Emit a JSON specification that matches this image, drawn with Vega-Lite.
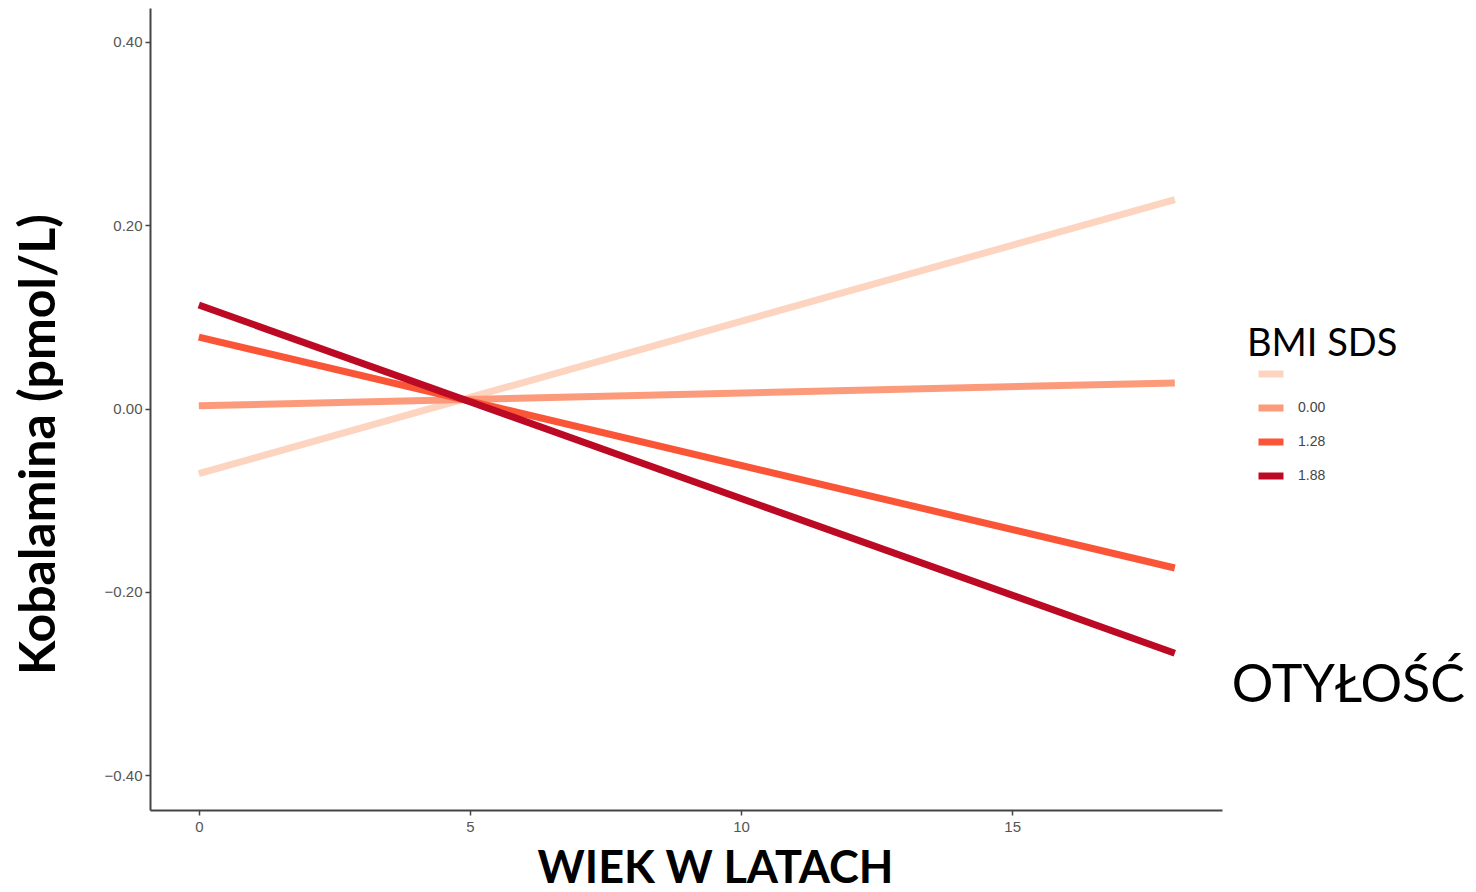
{
  "$schema": "https://vega.github.io/schema/vega-lite/v6.json",
  "width": 1072,
  "height": 802,
  "autosize": {"type": "none"},
  "padding": {"left": 150, "top": 8, "right": 254, "bottom": 82},
  "background": "white",
  "config": {"view": {"stroke": null}},
  "layer": [
    {
      "data": {
        "values": [
          {"wiek": 0, "kob": -0.071, "bmi": "-1.28"},
          {"wiek": 18, "kob": 0.228, "bmi": "-1.28"},
          {"wiek": 0, "kob": 0.003, "bmi": "0.00"},
          {"wiek": 18, "kob": 0.028, "bmi": "0.00"},
          {"wiek": 0, "kob": 0.078, "bmi": "1.28"},
          {"wiek": 18, "kob": -0.174, "bmi": "1.28"},
          {"wiek": 0, "kob": 0.113, "bmi": "1.88"},
          {"wiek": 18, "kob": -0.267, "bmi": "1.88"}
        ]
      },
      "mark": {"type": "line", "strokeWidth": 7, "strokeCap": "butt"},
      "encoding": {
        "x": {
          "field": "wiek", "type": "quantitative",
          "scale": {"domain": [-0.9, 18.87], "nice": false, "zero": false},
          "axis": {
            "values": [0, 5, 10, 15], "grid": false, "title": "WIEK W LATACH",
            "titleFont": "Lato", "titleFontSize": 45, "titleFontWeight": "bold", "titleColor": "black",
            "titleX": 565, "titleY": 36, "titleBaseline": "top",
            "labelFont": "Liberation Sans", "labelFontSize": 15, "labelColor": "#555",
            "labelPadding": 4, "tickSize": 5, "tickColor": "#444", "tickWidth": 1.5,
            "domainColor": "#444", "domainWidth": 2
          }
        },
        "y": {
          "field": "kob", "type": "quantitative",
          "scale": {"domain": [-0.438, 0.437], "nice": false, "zero": false},
          "axis": {
            "values": [-0.4, -0.2, 0, 0.2, 0.4], "format": ".2f", "grid": false,
            "title": "Kobalamina (pmol/L)",
            "titleFont": "Lato", "titleFontSize": 50, "titleFontWeight": "bold", "titleColor": "black",
            "titleX": -86, "titleY": 436, "titleAngle": -90, "titleBaseline": "bottom", "titleAlign": "center",
            "labelFont": "Liberation Sans", "labelFontSize": 15, "labelColor": "#555",
            "labelPadding": 3, "tickSize": 5, "tickColor": "#444", "tickWidth": 1.5,
            "domainColor": "#444", "domainWidth": 2
          }
        },
        "color": {
          "field": "bmi", "type": "nominal",
          "scale": {"domain": ["-1.28", "0.00", "1.28", "1.88"], "range": ["#fdd4c0", "#fc9b7c", "#fb5538", "#bd0a24"]},
          "legend": {
            "title": "BMI SDS", "orient": "none", "legendX": 1097, "legendY": 318,
            "titleFont": "Lato", "titleFontSize": 38, "titleFontWeight": "normal", "titleColor": "black",
            "titlePadding": -6,
            "labelFont": "Liberation Sans", "labelFontSize": 14, "labelColor": "#444",
            "labelExpr": "datum.label == '-1.28' ? '' : datum.label",
            "labelOffset": 11, "symbolOffset": 8, "symbolType": "stroke", "symbolSize": 625, "symbolStrokeWidth": 7,
            "rowPadding": 4, "offset": 0
          }
        },
        "detail": {"field": "bmi"}
      }
    },
    {
      "data": {"values": [{}]},
      "mark": {"type": "text", "font": "Lato", "fontSize": 52, "color": "black", "align": "left", "baseline": "middle", "dx": 57},
      "encoding": {
        "x": {"datum": 18},
        "y": {"datum": -0.303},
        "text": {"value": "OTYŁOŚĆ"}
      }
    }
  ]
}
